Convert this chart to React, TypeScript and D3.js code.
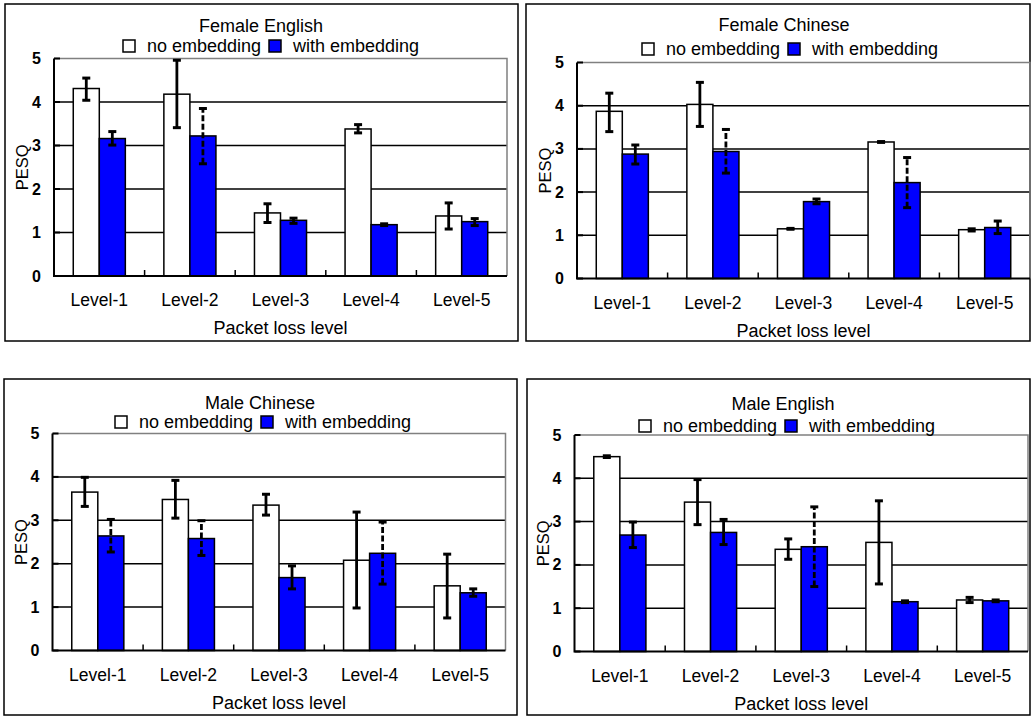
import { useRef, useEffect } from 'react'
import { select, scaleBand, scaleLinear } from 'd3'

const levels = ['Level-1', 'Level-2', 'Level-3', 'Level-4', 'Level-5']
const series = ['no embedding', 'with embedding']
const yTicks = [0, 1, 2, 3, 4, 5]
const titles = ['Female English', 'Female Chinese', 'Male Chinese', 'Male English']
const xAxisLabel = 'Packet loss level'
const yAxisLabel = 'PESQ'

// mean PESQ per level, and error bar [low, high]
const femaleEnglishNo = [4.31, 4.18, 1.45, 3.38, 1.38]
const femaleEnglishNoErr = [[4.04, 4.55], [3.41, 4.96], [1.23, 1.66], [3.29, 3.48], [1.08, 1.68]]
const femaleEnglishWith = [3.16, 3.22, 1.28, 1.18, 1.25]
const femaleEnglishWithErr = [[3.01, 3.32], [2.58, 3.85], [1.21, 1.33], [1.16, 1.2], [1.16, 1.32]]

const femaleChineseNo = [3.87, 4.03, 1.15, 3.16, 1.13]
const femaleChineseNoErr = [[3.4, 4.29], [3.52, 4.54], [1.14, 1.16], [3.15, 3.17], [1.1, 1.15]]
const femaleChineseWith = [2.88, 2.94, 1.78, 2.22, 1.18]
const femaleChineseWithErr = [[2.65, 3.09], [2.44, 3.45], [1.73, 1.84], [1.64, 2.8], [1.04, 1.33]]

const maleChineseNo = [3.65, 3.48, 3.35, 2.08, 1.49]
const maleChineseNoErr = [[3.32, 3.99], [3.05, 3.92], [3.12, 3.6], [0.98, 3.19], [0.75, 2.22]]
const maleChineseWith = [2.64, 2.58, 1.68, 2.24, 1.33]
const maleChineseWithErr = [[2.27, 3.02], [2.19, 2.99], [1.42, 1.95], [1.53, 2.96], [1.25, 1.42]]

const maleEnglishNo = [4.5, 3.45, 2.36, 2.52, 1.19]
const maleEnglishNoErr = [[4.48, 4.52], [2.93, 3.97], [2.13, 2.6], [1.56, 3.48], [1.13, 1.25]]
const maleEnglishWith = [2.69, 2.75, 2.42, 1.15, 1.17]
const maleEnglishWithErr = [[2.4, 2.99], [2.47, 3.05], [1.5, 3.34], [1.13, 1.17], [1.15, 1.19]]

const panelData = [
  [femaleEnglishNo, femaleEnglishNoErr, femaleEnglishWith, femaleEnglishWithErr],
  [femaleChineseNo, femaleChineseNoErr, femaleChineseWith, femaleChineseWithErr],
  [maleChineseNo, maleChineseNoErr, maleChineseWith, maleChineseWithErr],
  [maleEnglishNo, maleEnglishNoErr, maleEnglishWith, maleEnglishWithErr],
]

// layout of each panel on the page
const layouts = [
  { frame: [5, 4, 518, 341], plot: [54, 58.5, 507, 276], title: [261, 32], legend: [123, 52] },
  { frame: [526, 4, 1030, 341], plot: [577, 62.5, 1030, 278.5], title: [784, 31], legend: [642, 55] },
  { frame: [4, 379, 517, 715], plot: [52.5, 433.5, 505.5, 650.5], title: [260, 409], legend: [115, 428] },
  { frame: [527, 379, 1030, 715], plot: [574.5, 435, 1028, 651.5], title: [783, 410], legend: [639, 432] },
]

const colors = ['#ffffff', '#0000ff']
const font = '"Liberation Sans", Arial, sans-serif'

const App = () => {
  const svgRef = useRef(null)

  function renderPanel(svg, i) {
    const lay = layouts[i]
    const [fx0, fy0, fx1, fy1] = lay.frame
    const [px0, py0, px1, py1] = lay.plot
    const [noVals, noErr, withVals, withErr] = panelData[i]
    const g = svg.append('g')

    g.append('rect')
      .attr('x', fx0)
      .attr('y', fy0)
      .attr('width', fx1 - fx0)
      .attr('height', fy1 - fy0)
      .attr('fill', 'white')
      .attr('stroke', 'black')
      .attr('stroke-width', 1.5)

    const xScale = scaleBand().domain(levels).range([px0, px1]).padding(0)
    const x1 = scaleBand()
      .domain(series)
      .range([0, xScale.bandwidth()])
      .paddingInner(0)
      .paddingOuter(0.74)
    const yScale = scaleLinear().domain([0, 5]).range([py1, py0])

    // gridlines
    g.selectAll('.grid')
      .data(yTicks.filter((t) => t > 0 && t < 5))
      .join('line')
      .attr('x1', px0)
      .attr('x2', px1)
      .attr('y1', (d) => yScale(d))
      .attr('y2', (d) => yScale(d))
      .attr('stroke', 'black')
      .attr('stroke-width', 1.5)

    // plot border top/right
    g.append('path')
      .attr('d', `M${px0},${yScale(5)}H${px1}V${py1}`)
      .attr('fill', 'none')
      .attr('stroke', '#808080')
      .attr('stroke-width', 1.5)

    const rows = [
      { vals: noVals, err: noErr, s: 0 },
      { vals: withVals, err: withErr, s: 1 },
    ]

    rows.forEach((row) => {
      const cx = (j) => xScale(levels[j]) + x1(series[row.s])
      g.selectAll(null)
        .data(row.vals)
        .join('rect')
        .attr('x', (d, j) => cx(j))
        .attr('y', (d) => yScale(d))
        .attr('width', x1.bandwidth())
        .attr('height', (d) => yScale(0) - yScale(d))
        .attr('fill', colors[row.s])
        .attr('stroke', 'black')
        .attr('stroke-width', 1.5)
    })

    rows.forEach((row) => {
      row.err.forEach(([lo, hi], j) => {
        const x = xScale(levels[j]) + x1(series[row.s]) + x1.bandwidth() / 2
        const dashed = row.s === 1 && yScale(lo) - yScale(hi) > 30
        g.append('line')
          .attr('x1', x)
          .attr('x2', x)
          .attr('y1', yScale(lo))
          .attr('y2', yScale(hi))
          .attr('stroke', 'black')
          .attr('stroke-width', 2.8)
          .attr('stroke-dasharray', dashed ? '6,2.5' : null)
        ;[lo, hi].forEach((v) => {
          g.append('line')
            .attr('x1', x - 4)
            .attr('x2', x + 4)
            .attr('y1', yScale(v))
            .attr('y2', yScale(v))
            .attr('stroke', 'black')
            .attr('stroke-width', 3)
        })
      })
    })

    // axes
    g.append('path')
      .attr('d', `M${px0},${yScale(5)}V${py1}H${px1}`)
      .attr('fill', 'none')
      .attr('stroke', 'black')
      .attr('stroke-width', 2)

    g.selectAll(null)
      .data(yTicks)
      .join('line')
      .attr('x1', px0)
      .attr('x2', px0 + 6)
      .attr('y1', (d) => yScale(d))
      .attr('y2', (d) => yScale(d))
      .attr('stroke', 'black')
      .attr('stroke-width', 2)

    g.selectAll(null)
      .data(levels.slice(1))
      .join('line')
      .attr('x1', (d) => xScale(d))
      .attr('x2', (d) => xScale(d))
      .attr('y1', py1)
      .attr('y2', py1 - 6)
      .attr('stroke', 'black')
      .attr('stroke-width', 1.5)

    g.selectAll(null)
      .data(yTicks)
      .join('text')
      .text((d) => d)
      .attr('x', px0 - 13)
      .attr('y', (d) => yScale(d) + 5.5)
      .attr('text-anchor', 'end')
      .attr('font-weight', 'bold')
      .attr('font-size', 16)

    g.selectAll(null)
      .data(levels)
      .join('text')
      .text((d) => d)
      .attr('x', (d) => xScale(d) + xScale.bandwidth() / 2)
      .attr('y', py1 + 30)
      .attr('text-anchor', 'middle')
      .attr('font-size', 17.5)

    g.append('text')
      .text(xAxisLabel)
      .attr('x', (px0 + px1) / 2)
      .attr('y', py1 + 58)
      .attr('text-anchor', 'middle')
      .attr('font-size', 18)

    g.append('text')
      .text(yAxisLabel)
      .attr('transform', `translate(${px0 - 26},${(py0 + py1) / 2}) rotate(-90)`)
      .attr('text-anchor', 'middle')
      .attr('font-size', 16.5)

    g.append('text')
      .text(titles[i])
      .attr('x', lay.title[0])
      .attr('y', lay.title[1])
      .attr('text-anchor', 'middle')
      .attr('font-size', 18)

    const [lx, ly] = lay.legend
    const items = [
      { sq: lx, tx: lx + 24 },
      { sq: lx + 146, tx: lx + 170 },
    ]
    items.forEach((it, k) => {
      g.append('rect')
        .attr('x', it.sq)
        .attr('y', ly - 12)
        .attr('width', 12)
        .attr('height', 12)
        .attr('fill', colors[k])
        .attr('stroke', 'black')
        .attr('stroke-width', 1.5)
      g.append('text')
        .text(series[k])
        .attr('x', it.tx)
        .attr('y', ly)
        .attr('font-size', 18)
    })
  }

  useEffect(() => {
    const svg = select(svgRef.current)
    svg.selectAll('*').remove()
    svg.attr('font-family', font).attr('fill', 'black')
    titles.forEach((t, i) => renderPanel(svg, i))
  }, [])

  return (
    <div style={{ position: 'absolute', left: 0, top: 0 }}>
      <svg width="1031" height="717" ref={svgRef} style={{ display: 'block' }}></svg>
    </div>
  )
}

export default App
